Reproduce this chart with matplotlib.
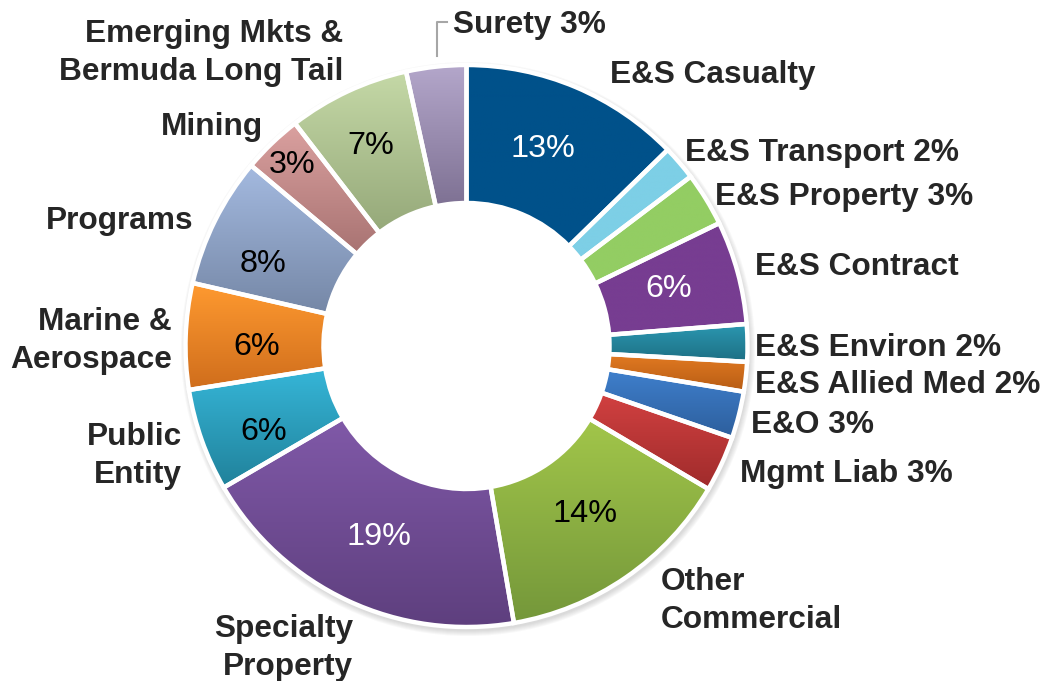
import numpy as np
import matplotlib
matplotlib.use('Agg')
import matplotlib.pyplot as plt
from matplotlib.patches import Wedge, Circle
from matplotlib.colors import to_rgb

# Premium mix by line of business (share of total, clockwise from 12 o'clock)
categories = ['E&S Casualty', 'E&S Transport', 'E&S Property', 'E&S Contract',
              'E&S Environ', 'E&S Allied Med', 'E&O', 'Mgmt Liab',
              'Other Commercial', 'Specialty Property', 'Public Entity',
              'Marine & Aerospace', 'Programs', 'Mining',
              'Emerging Mkts & Bermuda Long Tail', 'Surety']
shares = [12.7, 2.0, 3.1, 5.95, 2.15, 1.7, 2.7, 3.2,
          13.8, 19.3, 5.9, 6.1, 7.5, 3.45, 7.0, 3.45]
pct_labels = ['13%', '2%', '3%', '6%', '2%', '2%', '3%', '3%',
              '14%', '19%', '6%', '6%', '8%', '3%', '7%', '3%']
label_texts = ['E&S Casualty', 'E&S Transport 2%', 'E&S Property 3%', 'E&S Contract',
               'E&S Environ 2%', 'E&S Allied Med 2%', 'E&O 3%', 'Mgmt Liab 3%',
               'Other\nCommercial', 'Specialty\nProperty', 'Public\nEntity',
               'Marine &\nAerospace', 'Programs', 'Mining',
               'Emerging Mkts &\nBermuda Long Tail', 'Surety 3%']

# (top colour, bottom colour) of each wedge's vertical gradient
wedge_colors = [('#00518A', '#00518A'), ('#7DCFE6', '#7DCFE6'), ('#93CD63', '#93CD63'),
                ('#773D91', '#773D91'), ('#2B97B1', '#1D6F83'), ('#E27A22', '#B65C14'),
                ('#3F80CD', '#2D5E9C'), ('#D24141', '#9F2B2B'), ('#A2C64A', '#74973A'),
                ('#8059A8', '#5E3F7E'), ('#36B6D8', '#20819A'), ('#FF9A30', '#CF6D1C'),
                ('#A4BAE0', '#7587A6'), ('#DBA1A0', '#A87372'), ('#C5D9A7', '#95A879'),
                ('#B4A7CB', '#7E7193')]

# layout in pixel coordinates (x, first baseline, alignment)
label_pos = [(610, 83, 'left'), (685, 161, 'left'), (715, 205, 'left'), (755, 275, 'left'),
             (755, 356, 'left'), (755, 393, 'left'), (751, 433, 'left'), (740, 482, 'left'),
             (661, 590, 'left'), (353, 637, 'right'), (182, 445, 'right'), (172, 330, 'right'),
             (193, 229, 'right'), (263, 135, 'right'), (343, 42, 'right'), (453, 33, 'left')]
pct_pos = {0: (543, 157, 'white'), 3: (669, 297, 'white'), 8: (585, 522, 'black'),
           9: (378.5, 545, 'white'), 10: (264, 440, 'black'), 11: (257, 355, 'black'),
           12: (263, 272, 'black'), 13: (292, 173, 'black'), 14: (371, 154, 'black')}

cx, cy, r_out, ring = 466.5, 346, 281, 138
line_step = 38
text_color = '#262626'

plt.rcParams['font.family'] = ['Liberation Sans', 'DejaVu Sans']

fig = plt.figure(figsize=(10.46, 6.81), dpi=100)
ax = fig.add_axes([0, 0, 1, 1])


def gradient(top, bottom, n=256):
    t = np.linspace(0, 1, n)[:, None]
    c0 = np.array(to_rgb(top))
    c1 = np.array(to_rgb(bottom))
    return (c0 * (1 - t) + c1 * t)[:, None, :]


# soft shadow under the ring
for k in range(6):
    ax.add_patch(Circle((cx + 1.5, cy + 3), r_out + 1 + k, facecolor='#7f7f7f',
                        edgecolor='none', alpha=0.05, zorder=0))
ax.add_patch(Circle((cx, cy), r_out - ring, facecolor='white', edgecolor='none', zorder=0.5))

fracs = np.array(shares) / np.sum(shares)
bounds = np.concatenate([[0], np.cumsum(fracs)]) * 360

for i, (a0, a1) in enumerate(zip(bounds[:-1], bounds[1:])):
    w = Wedge((cx, cy), r_out, a0 - 90, a1 - 90, width=ring,
              facecolor='none', edgecolor='white', linewidth=3.2, zorder=2)
    ax.add_patch(w)
    ext = w.get_path().get_extents()
    im = ax.imshow(gradient(*wedge_colors[i]), extent=(ext.x0, ext.x1, ext.y1, ext.y0),
                   origin='upper', aspect='auto', interpolation='bilinear', zorder=1)
    im.set_clip_path(w)

# category labels
for text, (x, y, ha) in zip(label_texts, label_pos):
    for j, line in enumerate(text.split('\n')):
        ax.text(x, y + j * line_step, line, ha=ha, va='baseline', fontsize=22.8,
                fontweight='bold', color=text_color)

# percentages inside the ring
for i, (x, y, col) in pct_pos.items():
    ax.text(x, y, pct_labels[i], ha='center', va='baseline', fontsize=23.3, color=col)

# leader line for Surety
ax.plot([437, 437, 447], [56, 22, 22], color='#A6A6A6', lw=1.5)

ax.set_xlim(0, 1046)
ax.set_ylim(681, 0)
ax.axis('off')

plt.savefig('out.png', dpi=100)
